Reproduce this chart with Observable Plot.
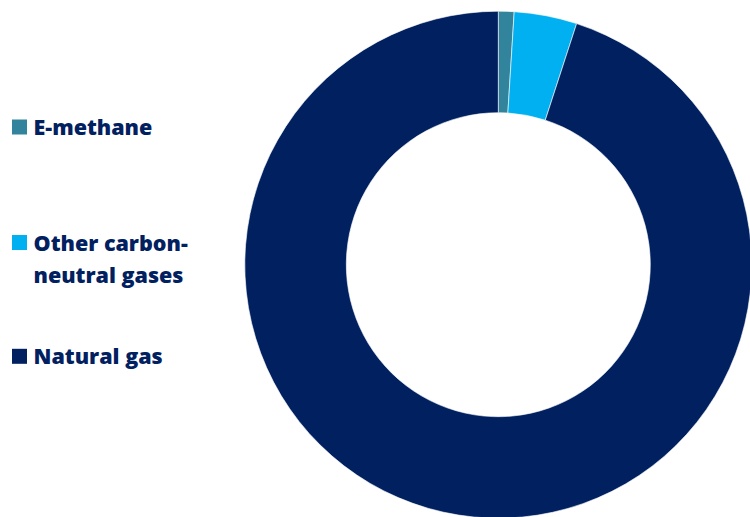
<!DOCTYPE html>
<html>
<head>
<meta charset="utf-8">
<script src="https://cdn.jsdelivr.net/npm/d3@7"></script>
<script src="https://cdn.jsdelivr.net/npm/@observablehq/plot@0.6"></script>
<style>
  html, body { margin: 0; padding: 0; background: #fff; }
  #chart svg { display: block; }
</style>
</head>
<body>
<div id="chart"></div>
<script>
// Data
const categories = ["E-methane", "Other carbon-neutral gases", "Natural gas"];
const shares = [1, 4, 95];
const colors = ["#31849B", "#00B0F0", "#002060"];
const legendLines = [["E-methane"], ["Other carbon-", "neutral gases"], ["Natural gas"]];

const slices = categories.map((c, i) => ({category: c, value: shares[i], color: colors[i]}));

// Layout (positions in pixels)
const W = 750, H = 517;
const cx = 498.3, cy = 264.7, rOuter = 253.5, rInner = 152;
const legendBaselines = [[134.5], [250, 282.3], [363.8]];
const legendX = 33, squareX = 12, squareSize = 15;

const legendRows = [];
const legendSquares = [];
legendLines.forEach((lines, i) => {
  lines.forEach((t, j) => legendRows.push({text: t, x: legendX, y: legendBaselines[i][j], color: "#002060"}));
  legendSquares.push({x: squareX, y: legendBaselines[i][0] - squareSize, color: colors[i], category: categories[i]});
});

function donut(data) {
  return (index, scales, values, dimensions, context) => {
    const g = d3.create("svg:g")
      .attr("transform", `translate(${scales.x(cx)},${scales.y(cy)})`);
    const pie = d3.pie().sort(null).value(d => d.value)(data);
    const arc = d3.arc().innerRadius(rInner).outerRadius(rOuter);
    g.selectAll("path").data(pie).join("path")
      .attr("d", arc)
      .attr("fill", d => d.data.color)
      .attr("stroke", "#ffffff")
      .attr("stroke-width", 0.6)
      .append("title").text(d => `${d.data.category}: ${d.data.value}%`);
    return g.node();
  };
}

const chart = Plot.plot({
  width: W,
  height: H,
  margin: 0,
  x: {domain: [0, W], range: [0, W], axis: null},
  y: {domain: [0, H], range: [0, H], axis: null},
  style: {background: "#ffffff", fontFamily: "'Open Sans', sans-serif"},
  marks: [
    donut(slices),
    Plot.rect(legendSquares, {
      x1: "x", x2: d => d.x + squareSize,
      y1: "y", y2: d => d.y + squareSize,
      fill: "color"
    }),
    Plot.text(legendRows, {
      x: "x", y: "y", text: "text",
      textAnchor: "start", lineAnchor: "bottom",
      fill: "#002060", fontSize: 21.5, fontWeight: 800
    })
  ]
});

document.getElementById("chart").appendChild(chart);
</script>
</body>
</html>
